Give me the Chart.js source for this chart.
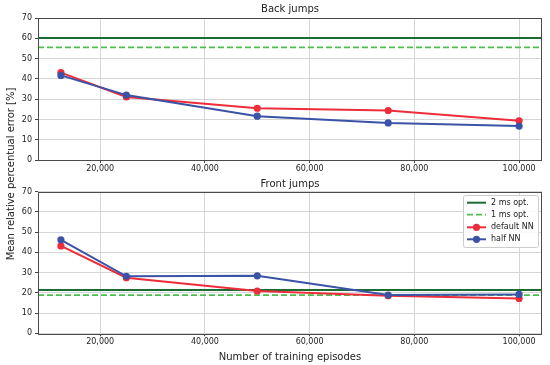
<!DOCTYPE html>
<html>
<head>
<meta charset="utf-8">
<script src="https://cdn.jsdelivr.net/npm/chart.js@4.4.1/dist/chart.umd.min.js"></script>
<style>
  html, body { margin: 0; padding: 0; background: #fff; }
  #wrap { position: relative; width: 550px; height: 365px; font-family: "DejaVu Sans", sans-serif; }
  canvas { position: absolute; left: 0; }
  #ylabel {
    position: absolute; left: -89px; top: 168px; width: 200px; height: 12px;
    line-height: 12px; text-align: center;
    transform: rotate(-90deg);
    white-space: nowrap; font-size: 10px; color: #222;
  }
</style>
</head>
<body>
<div id="wrap">
  <canvas id="back" width="550" height="175" style="top:0"></canvas>
  <canvas id="front" width="550" height="190" style="top:175px"></canvas>
  <div id="ylabel">Mean relative percentual error [%]</div>
</div>
<script>
// data
const episodes = [12500, 25000, 50000, 75000, 100000];
const xTicks = [20000, 40000, 60000, 80000, 100000];
const yTicks = [0, 10, 20, 30, 40, 50, 60, 70];

const backDefault = [43.1, 31.1, 25.5, 24.4, 19.3];
const backHalf = [41.7, 32.0, 21.6, 18.3, 16.7];
const backOpt2ms = 60.1;
const backOpt1ms = 55.5;

const frontDefault = [43.2, 27.5, 20.9, 18.6, 17.2];
const frontHalf = [46.2, 28.2, 28.4, 18.9, 19.2];
const frontOpt2ms = 21.4;
const frontOpt1ms = 18.9;

const seriesNames = ['2 ms opt.', '1 ms opt.', 'default NN', 'half NN'];

// matplotlib-like 5% margins
const X_MIN = 8125, X_MAX = 104375;

const DARK_GREEN = '#1b6b32';
const LIGHT_GREEN = '#4cbf4c';
const RED = '#ee2d3a';
const BLUE = '#3a53a6';
const FONT = '"DejaVu Sans", sans-serif';

const toPts = vals => vals.map((v, i) => ({ x: episodes[i], y: v }));
const hline = v => [{ x: X_MIN, y: v }, { x: X_MAX, y: v }];

function makeDatasets(opt2, opt1, def, half) {
  return [
    { label: seriesNames[0], data: hline(opt2), borderColor: DARK_GREEN, borderWidth: 2, pointRadius: 0, order: 4 },
    { label: seriesNames[1], data: hline(opt1), borderColor: LIGHT_GREEN, borderWidth: 1.8, borderDash: [6, 3], pointRadius: 0, order: 3 },
    { label: seriesNames[2], data: toPts(def), borderColor: RED, backgroundColor: RED, borderWidth: 2, pointRadius: 3.6, pointBorderWidth: 0, order: 2 },
    { label: seriesNames[3], data: toPts(half), borderColor: BLUE, backgroundColor: BLUE, borderWidth: 2, pointRadius: 3.6, pointBorderWidth: 0, order: 1 }
  ];
}

// frame round the plot area, and the panel title
const framePlugin = {
  id: 'panelFrame',
  afterDraw(chart, args, opts) {
    const { ctx, chartArea: a } = chart;
    ctx.save();
    ctx.strokeStyle = '#4a4a4a';
    ctx.lineWidth = 1;
    ctx.strokeRect(Math.round(a.left) + 0.5, Math.round(a.top) + 0.5,
      Math.round(a.right - a.left) - 1, Math.round(a.bottom - a.top));
    ctx.fillStyle = '#222';
    ctx.font = '10px ' + FONT;
    ctx.textAlign = 'center';
    ctx.textBaseline = 'middle';
    ctx.fillText(opts.text, (a.left + a.right) / 2, opts.y);
    ctx.restore();
  }
};

// legend box inside the lower panel
const legendPlugin = {
  id: 'boxLegend',
  afterDraw(chart, args, opts) {
    if (!opts.show) return;
    const { ctx } = chart;
    const x0 = 463, y0 = 20, w = 75, h = 52;
    ctx.save();
    ctx.fillStyle = 'rgba(255,255,255,0.85)';
    ctx.strokeStyle = '#cccccc';
    ctx.lineWidth = 1;
    ctx.beginPath();
    ctx.roundRect(x0 + 0.5, y0 + 0.5, w, h, 2);
    ctx.fill();
    ctx.stroke();
    const rows = [27.7, 39.7, 52.3, 64.3];
    chart.data.datasets.forEach((ds, i) => {
      const y = rows[i];
      ctx.strokeStyle = ds.borderColor;
      ctx.lineWidth = ds.borderWidth;
      ctx.setLineDash(ds.borderDash || []);
      ctx.beginPath();
      ctx.moveTo(467, y);
      ctx.lineTo(486, y);
      ctx.stroke();
      ctx.setLineDash([]);
      if (ds.pointRadius > 0) {
        ctx.fillStyle = ds.borderColor;
        ctx.beginPath();
        ctx.arc(476.5, y, ds.pointRadius, 0, Math.PI * 2);
        ctx.fill();
      }
      ctx.fillStyle = '#222';
      ctx.font = '8px ' + FONT;
      ctx.textAlign = 'left';
      ctx.textBaseline = 'middle';
      ctx.fillText(ds.label, 491, y);
    });
    ctx.restore();
  }
};

function makeOptions(title, titleY, padTop, xHeight, showXTitle, showLegend) {
  return {
    responsive: false,
    animation: false,
    devicePixelRatio: 1,
    layout: { padding: { top: padTop, right: 8, left: 0, bottom: 0 } },
    plugins: {
      legend: { display: false },
      tooltip: { enabled: false },
      panelFrame: { text: title, y: titleY },
      boxLegend: { show: showLegend }
    },
    scales: {
      x: {
        type: 'linear',
        min: X_MIN,
        max: X_MAX,
        afterBuildTicks: s => { s.ticks = xTicks.map(v => ({ value: v })); },
        afterFit: s => { s.height = xHeight; },
        border: { display: false },
        grid: { color: '#d6d6d6', lineWidth: 1, tickLength: 3, tickColor: '#444' },
        ticks: {
          color: '#222',
          font: { family: FONT, size: 8 },
          padding: 1,
          maxRotation: 0,
          callback: v => v.toLocaleString('en-US')
        },
        title: {
          display: showXTitle,
          text: 'Number of training episodes',
          color: '#222',
          font: { family: FONT, size: 10 },
          padding: { top: 0, bottom: 2 }
        }
      },
      y: {
        min: 0,
        max: 70,
        afterBuildTicks: s => { s.ticks = yTicks.map(v => ({ value: v })); },
        afterFit: s => { s.width = 38; },
        border: { display: false },
        grid: { color: '#d6d6d6', lineWidth: 1, tickLength: 3, tickColor: '#444' },
        ticks: { color: '#222', font: { family: FONT, size: 8 }, padding: 3 }
      }
    }
  };
}

new Chart(document.getElementById('back'), {
  type: 'line',
  data: { datasets: makeDatasets(backOpt2ms, backOpt1ms, backDefault, backHalf) },
  options: makeOptions('Back jumps', 9, 18, 15, false, false),
  plugins: [framePlugin, legendPlugin]
});

new Chart(document.getElementById('front'), {
  type: 'line',
  data: { datasets: makeDatasets(frontOpt2ms, frontOpt1ms, frontDefault, frontHalf) },
  options: makeOptions('Front jumps', 9, 16.7, 31.7, true, true),
  plugins: [framePlugin, legendPlugin]
});
</script>
</body>
</html>
